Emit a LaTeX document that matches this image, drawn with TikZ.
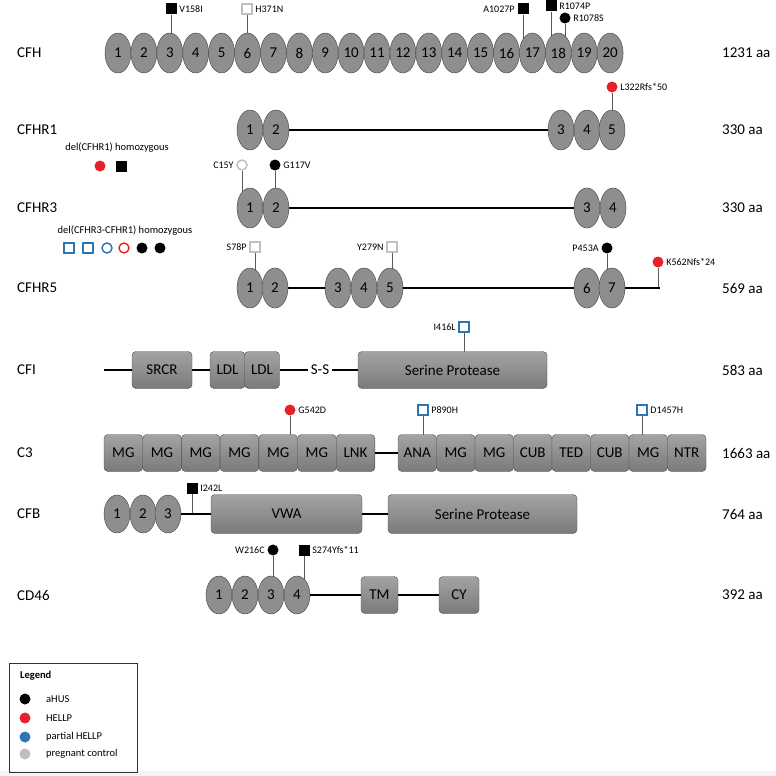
\documentclass[tikz,border=0pt]{standalone}
\usepackage{fontspec}
\setmainfont{Carlito}
\usetikzlibrary{shapes.geometric,backgrounds}
\definecolor{hellpred}{HTML}{E8202A}
\definecolor{partblue}{HTML}{2E75B6}
\definecolor{ctrlgrey}{HTML}{BFBFBF}
\definecolor{domgrey}{HTML}{8E8E8E}
\definecolor{stemgrey}{HTML}{595959}
\tikzset{
  ccp/.style={ellipse, draw=black!75, fill=domgrey, minimum width=26, minimum height=40,
    inner sep=0pt, font=\fontsize{15}{15}\selectfont},
  dom/.style={rectangle, rounded corners=4, draw=black!70, top color=black!36,
    bottom color=black!52, minimum height=37, inner sep=0pt, font=\fontsize{15}{15}\selectfont},
  bb/.style={line width=1.6pt},
  stem/.style={draw=stemgrey, line width=0.8pt},
  mut/.style={inner sep=2.5pt, font=\fontsize{10}{10}\selectfont},
  sqfill/.style={rectangle, minimum size=11, inner sep=0pt, fill=black},
  sqopen/.style={rectangle, minimum size=10, inner sep=0pt, fill=white, line width=1.4pt, draw=#1},
  dotfill/.style={circle, minimum size=11, inner sep=0pt, fill=#1},
  dotopen/.style={circle, minimum size=10, inner sep=0pt, fill=white, line width=1.4pt, draw=#1},
  rowname/.style={anchor=west, inner sep=0pt, font=\fontsize{15}{15}\selectfont},
  rowlen/.style={anchor=west, inner sep=0pt, font=\fontsize{15}{15}\selectfont},
  note/.style={inner sep=0pt, font=\fontsize{10.5}{10.5}\selectfont}
}
\begin{document}
\begin{tikzpicture}[x=1pt,y=-1pt]
  \useasboundingbox (0,0) rectangle (776,776);
  \fill[black!4] (0,771) rectangle (776,776);
  %
  % protein names and lengths
  \foreach \name/\len/\ypos [count=\r] in {CFH/1231/53,CFHR1/330/130,CFHR3/330/208,
      CFHR5/569/288,CFI/583/370,C3/1663/453,CFB/764/514,CD46/392/595} {
    \node[rowname] (name\r) at (17,\ypos) {\name};
    \node[rowlen] (len\r) at (722,\ypos) {\len{} aa};
  }
  %
  % CFH
  \foreach \i in {1,...,20}
    \node[ccp] (cfh\i) at ({118+25.9*(\i-1)},53) {\i};
  \node[sqfill, label={[mut]right:V158I}] (v158i) at (171,9) {};
  \node[sqopen=ctrlgrey, label={[mut]right:H371N}] (h371n) at (247,9) {};
  \node[sqfill, label={[mut]left:A1027P}] (a1027p) at (523,9) {};
  \node[sqfill, label={[mut]right:R1074P}] (r1074p) at (551,6) {};
  \node[dotfill=black, label={[mut]right:R1078S}] (r1078s) at (565,18) {};
  %
  % CFHR1
  \foreach \i/\xpos in {1/250,2/276,3/561,4/587,5/612}
    \node[ccp] (hra\i) at (\xpos,130) {\i};
  \draw[bb] (hra2) -- (hra3);
  \node[dotfill=hellpred, label={[mut]right:L322Rfs*50}] (l322r) at (612,87) {};
  \node[note] (delhra) at (117,148) {del(CFHR1) homozygous};
  \node[dotfill=hellpred] (delhra1) at (100,166) {};
  \node[sqfill] (delhra2) at (121,166) {};
  %
  % CFHR3
  \foreach \i/\xpos in {1/250,2/276,3/587,4/613}
    \node[ccp] (hrc\i) at (\xpos,208) {\i};
  \draw[bb] (hrc2) -- (hrc3);
  \node[dotopen=ctrlgrey, label={[mut]left:C15Y}] (c15y) at (242,165) {};
  \node[dotfill=black, label={[mut]right:G117V}] (g117v) at (275,165) {};
  \node[note] (delhrc) at (125,231) {del(CFHR3-CFHR1) homozygous};
  \node[sqopen=partblue] (delhrc1) at (69,248) {};
  \node[sqopen=partblue] (delhrc2) at (88,248) {};
  \node[dotopen=partblue] (delhrc3) at (107,248) {};
  \node[dotopen=hellpred] (delhrc4) at (124,248) {};
  \node[dotfill=black] (delhrc5) at (142,248) {};
  \node[dotfill=black] (delhrc6) at (160,248) {};
  %
  % CFHR5
  \foreach \i/\xpos in {1/250,2/275,3/338,4/364,5/390,6/587,7/612}
    \node[ccp] (hre\i) at (\xpos,288) {\i};
  \coordinate (hreend) at (660,288);
  \draw[bb] (hre2) -- (hre3);
  \draw[bb] (hre5) -- (hre6);
  \draw[bb] (hre7) -- (hreend);
  \node[sqopen=ctrlgrey, label={[mut]left:S78P}] (s78p) at (255,247) {};
  \node[sqopen=ctrlgrey, label={[mut]left:Y279N}] (y279n) at (392,247) {};
  \node[dotfill=black, label={[mut]left:P453A}] (p453a) at (607,248) {};
  \node[dotfill=hellpred, label={[mut]right:K562Nfs*24}] (k562n) at (658,262) {};
  %
  % CFI
  \coordinate (cfistart) at (104,370);
  \node[dom, minimum width=60] (srcr) at (162,370) {SRCR};
  \node[dom, minimum width=35] (ldla) at (227.5,370) {LDL};
  \node[dom, minimum width=35] (ldlb) at (262,370) {LDL};
  \node[inner sep=3pt, font=\fontsize{15}{15}\selectfont] (ss) at (320,370) {S-S};
  \node[dom, minimum width=189] (cfisp) at (452.5,370) {Serine Protease};
  \draw[bb] (cfistart) -- (srcr);
  \draw[bb] (srcr) -- (ldla);
  \draw[bb] (ldlb) -- (ss) -- (cfisp);
  \node[sqopen=partblue, label={[mut]left:I416L}] (i416l) at (464,327) {};
  %
  % C3
  \foreach \lab [count=\k] in {MG,MG,MG,MG,MG,MG,LNK}
    \node[dom, minimum width=38.7] (c3a\k) at ({104+38.7*(\k-0.5)},453) {\lab};
  \foreach \lab [count=\k] in {ANA,MG,MG,CUB,TED,CUB,MG,NTR}
    \node[dom, minimum width=38.5] (c3b\k) at ({398+38.5*(\k-0.5)},453) {\lab};
  \draw[bb] (c3a7) -- (c3b1);
  \node[dotfill=hellpred, label={[mut]right:G542D}] (g542d) at (290,410) {};
  \node[sqopen=partblue, label={[mut]right:P890H}] (p890h) at (423,410) {};
  \node[sqopen=partblue, label={[mut]right:D1457H}] (d1457h) at (642,410) {};
  %
  % CFB
  \foreach \i/\xpos in {1/117,2/143,3/168}
    \node[ccp, minimum height=38] (cfb\i) at (\xpos,514) {\i};
  \node[dom, minimum width=151, minimum height=39] (vwa) at (286.5,514) {VWA};
  \node[dom, minimum width=189, minimum height=39] (cfbsp) at (482.5,514) {Serine Protease};
  \draw[bb] (cfb3) -- (vwa);
  \draw[bb] (vwa) -- (cfbsp);
  \node[sqfill, label={[mut]right:I242L}] (i242l) at (192,488) {};
  %
  % CD46
  \foreach \i/\xpos in {1/219,2/245,3/271,4/297}
    \node[ccp, minimum height=38] (cd\i) at (\xpos,595) {\i};
  \node[dom, minimum width=37] (tm) at (379.5,595) {TM};
  \node[dom, minimum width=40] (cy) at (459,595) {CY};
  \draw[bb] (cd4) -- (tm);
  \draw[bb] (tm) -- (cy);
  \node[dotfill=black, label={[mut]left:W216C}] (w216c) at (273,550) {};
  \node[sqfill, label={[mut]right:S274Yfs*11}] (s274y) at (304,550) {};
  %
  % stems
  \begin{scope}[on background layer]
    \draw[stem] (v158i) -- (v158i |- cfh3);
    \draw[stem] (h371n) -- (h371n |- cfh6);
    \draw[stem] (a1027p) -- (a1027p |- cfh17);
    \draw[stem] (r1074p) -- (r1074p |- cfh18);
    \draw[stem] (r1078s) -- (r1078s |- cfh18);
    \draw[stem] (l322r) -- (l322r |- hra5);
    \draw[stem] (c15y) -- (c15y |- hrc1);
    \draw[stem] (g117v) -- (g117v |- hrc2);
    \draw[stem] (s78p) -- (s78p |- hre1);
    \draw[stem] (y279n) -- (y279n |- hre5);
    \draw[stem] (p453a) -- (p453a |- hre7);
    \draw[stem] (k562n) -- (k562n |- hreend);
    \draw[stem] (i416l) -- (i416l |- cfisp);
    \draw[stem] (g542d) -- (g542d |- c3a5);
    \draw[stem] (p890h) -- (p890h |- c3b1);
    \draw[stem] (d1457h) -- (d1457h |- c3b7);
    \draw[stem] (i242l) -- (i242l |- cfb3);
    \draw[stem] (w216c) -- (w216c |- cd3);
    \draw[stem] (s274y) -- (s274y |- cd4);
  \end{scope}
  %
  % legend
  \node[draw=black!80, line width=0.8pt, minimum width=128, minimum height=109, inner sep=0pt]
    (legendbox) at (73,717.5) {};
  \node[note, anchor=west, font=\fontsize{10.5}{10.5}\selectfont\bfseries] (legendtitle) at (20,676) {Legend};
  \foreach \col/\txt/\ypos [count=\k] in {black/aHUS/699,hellpred/HELLP/718,
      partblue/partial HELLP/737,ctrlgrey/pregnant control/754} {
    \node[dotfill=\col] (legdot\k) at (25,\ypos) {};
    \node[note, anchor=west] (legtxt\k) at (46,\ypos) {\txt};
  }
\end{tikzpicture}
\end{document}
